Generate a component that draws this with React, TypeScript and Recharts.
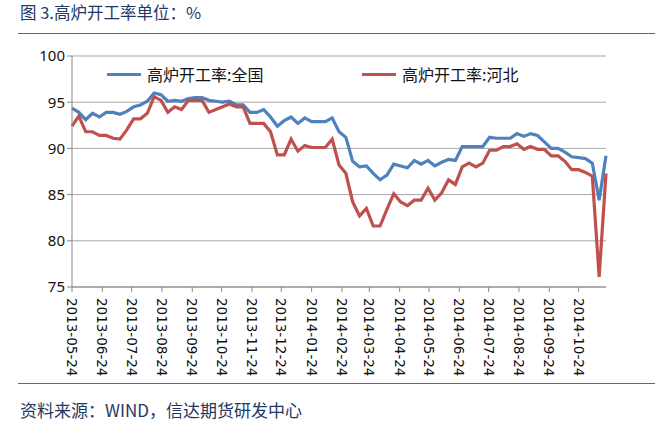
import React from "react";
import {
  LineChart,
  Line,
  XAxis,
  YAxis,
  CartesianGrid,
} from "recharts";

// weekly survey, Fridays from 2013-05-24
const startDate = "2013-05-24";

const national = [
  94.35, 93.9, 93.1, 93.8, 93.4, 93.9, 93.9, 93.7, 94.0, 94.5,
  94.7, 95.1, 96.0, 95.8, 95.1, 95.2, 95.1, 95.4, 95.5, 95.5,
  95.2, 95.1, 95.0, 95.1, 94.7, 94.7, 93.9, 93.9, 94.2, 93.4,
  92.4, 93.0, 93.4, 92.7, 93.3, 92.9, 92.9, 92.9, 93.3, 91.8,
  91.2, 88.6, 88.0, 88.1, 87.3, 86.6, 87.1, 88.3, 88.1, 87.9,
  88.7, 88.3, 88.7, 88.1, 88.5, 88.8, 88.7, 90.2, 90.2, 90.2,
  90.2, 91.2, 91.1, 91.1, 91.1, 91.6, 91.3, 91.6, 91.4, 90.7,
  90.0, 90.0, 89.6, 89.1, 89.0, 88.9, 88.4, 84.4, 89.2,
];

const hebei = [
  92.4, 93.5, 91.8, 91.8, 91.4, 91.4, 91.1, 91.0, 92.0, 93.2,
  93.2, 93.8, 95.6, 95.2, 93.9, 94.5, 94.2, 95.2, 95.2, 95.2,
  93.9, 94.2, 94.5, 94.8, 94.5, 94.5, 92.7, 92.7, 92.7, 91.8,
  89.3, 89.3, 91.0, 89.7, 90.3, 90.1, 90.1, 90.1, 91.0, 88.2,
  87.3, 84.2, 82.7, 83.5, 81.6, 81.6, 83.4, 85.1, 84.2, 83.8,
  84.4, 84.4, 85.7, 84.4, 85.2, 86.6, 86.1, 88.0, 88.4, 88.0,
  88.4, 89.8, 89.8, 90.2, 90.2, 90.5, 89.9, 90.2, 89.9, 89.9,
  89.2, 89.2, 88.6, 87.7, 87.7, 87.4, 87.0, 76.1, 87.3,
];

const tickLabels = [
  "2013-05-24", "2013-06-24", "2013-07-24", "2013-08-24", "2013-09-24",
  "2013-10-24", "2013-11-24", "2013-12-24", "2014-01-24", "2014-02-24",
  "2014-03-24", "2014-04-24", "2014-05-24", "2014-06-24", "2014-07-24",
  "2014-08-24", "2014-09-24", "2014-10-24",
];

const yTicks = [75, 80, 85, 90, 95, 100];

const seriesNames = ["高炉开工率:全国", "高炉开工率:河北"];
const colors = ["#4F81BD", "#C0504D"];

const DAY = 86400000;
const t0 = Date.parse(startDate + "T00:00:00Z");

const data = national.map((v, i) => ({
  t: t0 + i * 7 * DAY,
  national: v,
  hebei: hebei[i],
}));

const xTicks = tickLabels.map((s) => Date.parse(s + "T00:00:00Z"));

const fmt = (t: number) => new Date(t).toISOString().slice(0, 10);

const XTick = (props: any) => {
  const { x, y, payload } = props;
  return (
    <text
      x={0}
      y={0}
      transform={`translate(${x},${y + 4}) rotate(90)`}
      textAnchor="start"
      dominantBaseline="central"
      fontSize={13.5}
      fill="#111"
      fontFamily="'DejaVu Sans', sans-serif"
    >
      {fmt(payload.value)}
    </text>
  );
};

export default function App() {
  return (
    <div
      style={{
        position: "absolute",
        left: 0,
        top: 0,
        width: 655,
        height: 423,
        background: "#fff",
        fontFamily: "'Noto Sans CJK SC', sans-serif",
      }}
    >
      <div style={{ position: "absolute", left: 20, top: 0, fontSize: 16.5, color: "#1F3864" }}>
        图 3.高炉开工率单位：%
      </div>
      <div style={{ position: "absolute", left: 18, right: 0, top: 33, height: 1, background: "#666" }} />
      <LineChart
        width={655}
        height={423}
        data={data}
        margin={{ top: 56, right: 49, bottom: 0, left: 0 }}
      >
        <CartesianGrid vertical={false} stroke="#A6A6A6" strokeWidth={1} />
        <XAxis
          dataKey="t"
          type="number"
          scale="time"
          domain={[t0, t0 + 78 * 7 * DAY]}
          ticks={xTicks}
          tick={<XTick />}
          interval={0}
          height={136}
          stroke="#888"
          tickSize={5}
        />
        <YAxis
          domain={[75, 100]}
          ticks={yTicks}
          width={72}
          stroke="#888"
          tickSize={5}
          tick={{ fontSize: 15, fill: "#111", fontFamily: "'Noto Sans', sans-serif" }}
        />
        <Line
          dataKey="national"
          name={seriesNames[0]}
          stroke={colors[0]}
          strokeWidth={3.2}
          dot={false}
          isAnimationActive={false}
        />
        <Line
          dataKey="hebei"
          name={seriesNames[1]}
          stroke={colors[1]}
          strokeWidth={3.2}
          dot={false}
          isAnimationActive={false}
        />
      </LineChart>
      <div
        style={{
          position: "absolute",
          left: 107,
          top: 62,
          display: "flex",
          alignItems: "center",
          fontSize: 16,
          color: "#111",
        }}
      >
        {seriesNames.map((n, i) => (
          <div key={n} style={{ display: "flex", alignItems: "center", width: i === 0 ? 255 : "auto" }}>
            <div style={{ width: 34, height: 3, background: colors[i], marginRight: 6 }} />
            <span>{n}</span>
          </div>
        ))}
      </div>
      <div style={{ position: "absolute", left: 18, right: 0, top: 383, height: 1, background: "#666" }} />
      <div style={{ position: "absolute", left: 20, top: 397, fontSize: 17, color: "#1F3864" }}>
        资料来源：WIND，信达期货研发中心
      </div>
    </div>
  );
}
